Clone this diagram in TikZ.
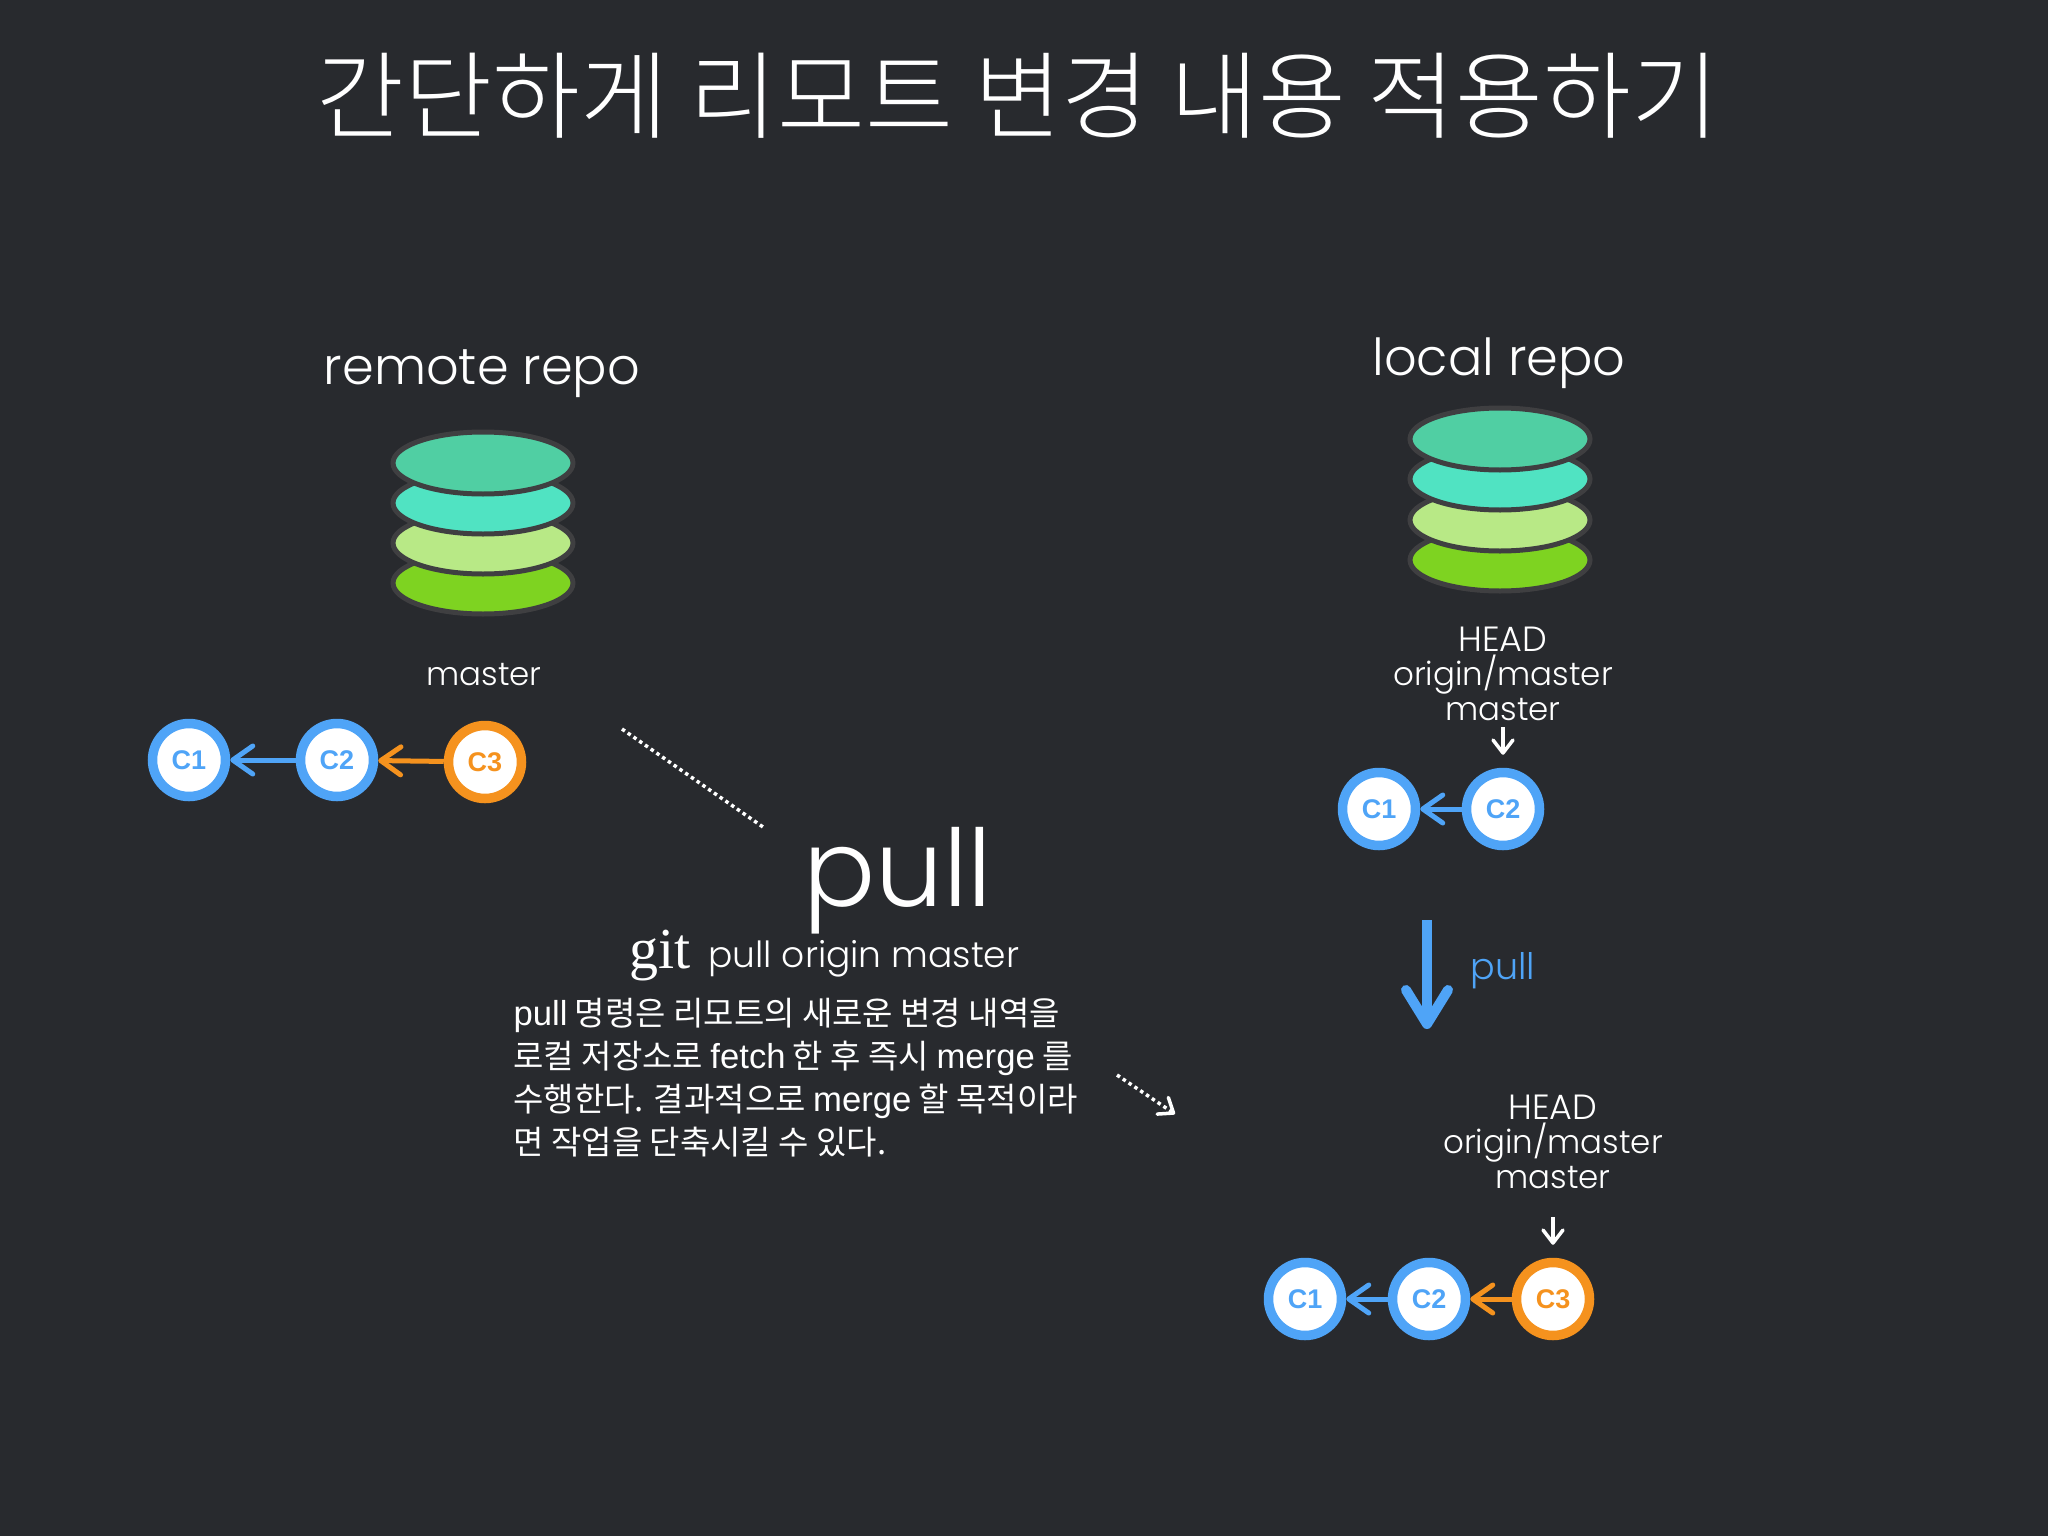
\documentclass[tikz,border=0pt]{standalone}
\usepackage{fontspec}
\usetikzlibrary{arrows.meta,shapes.geometric}
\setmainfont{Poppins}[UprightFont=* Light]
\newfontfamily\krfont{Noto Sans CJK KR}[UprightFont=* Light]
\newfontfamily\bodyfont{Noto Sans CJK KR}
\newfontfamily\latinfont{Liberation Sans}[Scale=1.05]
\newfontfamily\commitfont{Liberation Sans}[UprightFont=* Bold]
\newfontfamily\gitfont{Liberation Serif}
\definecolor{slidebg}{HTML}{282A2E}
\definecolor{diskline}{HTML}{3F3F41}
\definecolor{commitblue}{HTML}{4FA4F7}
\definecolor{commitorange}{HTML}{F5921E}
\definecolor{stacka}{HTML}{50CFA3}
\definecolor{stackb}{HTML}{50E3C2}
\definecolor{stackc}{HTML}{B8E986}
\definecolor{stackd}{HTML}{7ED321}
\newcommand{\sz}[1]{\fontsize{#1}{#1}\selectfont}
\tikzset{
  x=1pt,y=-1pt,
  disk/.style={draw=diskline,line width=5pt,ellipse,minimum width=180pt,minimum height=62pt,inner sep=0pt},
  commit/.style={circle,fill=white,line width=9.5pt,minimum size=73pt,inner sep=0pt,font=\commitfont\sz{27}},
  bluecommit/.style={commit,draw=commitblue,text=commitblue},
  orangecommit/.style={commit,draw=commitorange,text=commitorange},
  barb/.style={-{Straight Barb[round,length=20pt,width=28pt]},line width=5pt},
  whitearrow/.style={-{Straight Barb[round,length=13pt,width=20pt]},line width=3.5pt,white,shorten >=13pt},
  dots/.style={white,line width=3.5pt,dash pattern=on 3.5pt off 3.5pt},
  label/.style={text=white,align=center,font=\sz{32.5}},
}
\begin{document}
\begin{tikzpicture}

\fill[slidebg] (0,0) rectangle (2048,1536);

% Title
\node[text=white,font=\krfont\sz{95.5}] (title) at (1018,96) {간단하게 리모트 변경 내용 적용하기};

% Remote repo
\node[text=white,font=\sz{51}] (remotelabel) at (482,374) {remote repo};
\begin{scope}[xshift=483pt,yshift=-463pt]
\node[disk,fill=stackd] (remoted) at (0,120) {};
\node[disk,fill=stackc] (remotec) at (0,80) {};
\node[disk,fill=stackb] (remoteb) at (0,40) {};
\node[disk,fill=stacka] (remotea) at (0,0) {};
\end{scope}
\node[label] (remotemaster) at (484,675) {master};
\node[bluecommit] (rc1) at (189,760) {C1};
\node[bluecommit] (rc2) at (337,760) {C2};
\node[orangecommit] (rc3) at (485,762) {C3};
\draw[barb,commitblue] (rc2) -- (rc1);
\draw[barb,commitorange] (rc3) -- (rc2);

% Local repo
\node[text=white,font=\sz{51}] (locallabel) at (1499,363) {local repo};
\begin{scope}[xshift=1500pt,yshift=-439pt]
\node[disk,fill=stackd] (locald) at (0,121) {};
\node[disk,fill=stackc] (localc) at (0,81) {};
\node[disk,fill=stackb] (localb) at (0,40) {};
\node[disk,fill=stacka] (locala) at (0,0) {};
\end{scope}

% Local before pull
\node[label,font=\sz{35}] (headone) at (1503,639) {HEAD};
\node[label] (originone) at (1503,675) {origin/master};
\node[label] (masterone) at (1503,710) {master};
\coordinate (ptrone) at (1503,727);
\node[bluecommit] (lc1) at (1379,809) {C1};
\node[bluecommit] (lc2) at (1503,809) {C2};
\draw[whitearrow] (ptrone) -- (lc2);
\draw[barb,commitblue] (lc2) -- (lc1);

% Pull arrow
\coordinate (pullstart) at (1427,920);
\coordinate (pullend) at (1427,1029);
\draw[commitblue,line width=10pt,-{Straight Barb[round,length=34pt,width=42pt]}] (pullstart) -- (pullend);
\node[text=commitblue,font=\sz{36.5}] (pulllabel) at (1503,971) {pull};

% Local after pull
\node[label,font=\sz{35}] (headtwo) at (1553,1107) {HEAD};
\node[label] (origintwo) at (1553,1143) {origin/master};
\node[label] (mastertwo) at (1553,1178) {master};
\coordinate (ptrtwo) at (1553,1217);
\node[bluecommit] (nc1) at (1305,1299) {C1};
\node[bluecommit] (nc2) at (1429,1299) {C2};
\node[orangecommit] (nc3) at (1553,1299) {C3};
\draw[whitearrow] (ptrtwo) -- (nc3);
\draw[barb,commitblue] (nc2) -- (nc1);
\draw[barb,commitorange] (nc3) -- (nc2);

% Pull text
\node[text=white,font=\sz{107},anchor=base] (pullbig) at (898,906) {pull};
\node[text=white,font=\gitfont\sz{58},anchor=base] (gitword) at (660,968) {git};
\node[text=white,font=\sz{36},anchor=base west] (gitcmd) at (705,967) {pull origin master};
\node[text=white,anchor=west,align=left,font=\bodyfont\fontsize{33}{43}\selectfont] (pulltext) at (510,1078)
  {{\latinfont pull} 명령은 리모트의 새로운 변경 내역을\\
   로컬 저장소로 {\latinfont fetch} 한 후 즉시 {\latinfont merge} 를\\
   수행한다. 결과적으로 {\latinfont merge} 할 목적이라\\
   면 작업을 단축시킬 수 있다.};

% Dotted lines
\coordinate (dotsa) at (622,729);
\coordinate (dotsb) at (763,827);
\coordinate (dotsc) at (1117,1075);
\coordinate (dotsd) at (1175,1114);
\draw[dots] (dotsa) -- (dotsb);
\draw[dots,-{Straight Barb[round,length=13pt,width=20pt]}] (dotsc) -- (dotsd);

\end{tikzpicture}
\end{document}
